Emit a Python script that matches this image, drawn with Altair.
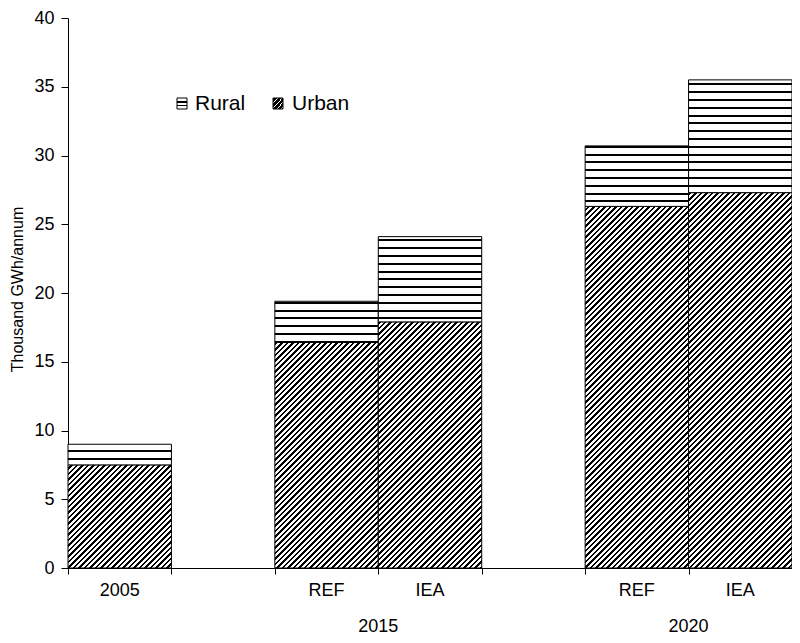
import math
import altair as alt
import pandas as pd

# ---------------- data ----------------
categories = ["2005", "REF 2015", "IEA 2015", "REF 2020", "IEA 2020"]
slot_index = [0, 2, 3, 5, 6]
urban = [7.5, 16.4, 17.9, 26.3, 27.3]
rural = [1.5, 3.0, 6.2, 4.4, 8.2]

slot_labels = ["2005", "", "REF", "IEA", "", "REF", "IEA"]
group_labels = ["2015", "2020"]
group_pos = [3, 6]
legend_labels = ["Rural", "Urban"]
y_ticks = [0, 5, 10, 15, 20, 25, 30, 35, 40]

# ---------------- layout ----------------
W, H = 724, 550
TOP = 10
N_SLOTS = 7
Y_MAX = 40
PX_X = W / N_SLOTS
PX_Y = H / Y_MAX
FONT = "Liberation Sans"


def clamp(v):
    return max(0.0, min(1.0, v))


def hstripe_gradient(top_px, bot_px, period=7.8, lw=2.0):
    """Horizontal black lines, anchored to the plot baseline."""
    h = bot_px - top_px
    stops = [{"offset": 0, "color": "white"}]
    k = int(math.ceil((H - top_px) / period)) + 1
    while k >= 0:
        yc = H - k * period
        a = clamp((yc - lw / 2 - top_px) / h)
        b = clamp((yc + lw / 2 - top_px) / h)
        if b > 0 and a < 1 and b > a:
            stops += [{"offset": a, "color": "white"}, {"offset": a, "color": "black"},
                      {"offset": b, "color": "black"}, {"offset": b, "color": "white"}]
        k -= 1
    stops.append({"offset": 1, "color": "white"})
    return {"gradient": "linear", "x1": 0, "y1": 0, "x2": 0, "y2": 1, "stops": stops}


def diag_gradient(x0, y0, w, h, period=5.5, lw=2.8):
    """45 degree '/' hatching in bbox units, anchored globally."""
    L = w + h
    s = L * h / (w * w + h * h)
    X2, Y2 = s * w / h, s
    base = x0 + y0
    stops = [{"offset": 0, "color": "white"}]
    k = int(math.floor((base - lw) / period))
    while k * period <= base + L + lw:
        c = k * period - base
        a = clamp((c - lw / 2) / L)
        b = clamp((c + lw / 2) / L)
        if b > a:
            stops += [{"offset": a, "color": "white"}, {"offset": a, "color": "black"},
                      {"offset": b, "color": "black"}, {"offset": b, "color": "white"}]
        k += 1
    stops.append({"offset": 1, "color": "white"})
    return {"gradient": "linear", "x1": 0, "y1": 0, "x2": X2, "y2": Y2, "stops": stops}


rows = []
for cat, sl, u, r in zip(categories, slot_index, urban, rural):
    rows.append({"bar": cat, "seg": "Urban", "x0": sl, "x1": sl + 1, "y0": 0, "y1": u})
    rows.append({"bar": cat, "seg": "Rural", "x0": sl, "x1": sl + 1, "y0": u, "y1": u + r})
df = pd.DataFrame(rows)

x_scale = alt.Scale(domain=[0, N_SLOTS], nice=False, zero=False)
y_scale = alt.Scale(domain=[0, Y_MAX], nice=False, zero=True)
x_axis = alt.Axis(values=list(range(N_SLOTS + 1)), labels=False, tickSize=6, grid=False,
                  domainColor="black", tickColor="black", title=None)
y_axis = alt.Axis(values=y_ticks, tickSize=7, grid=False, domainColor="black", tickColor="black",
                  labelFont=FONT, labelFontSize=18, labelColor="black", labelPadding=7,
                  title="Thousand GWh/annum", titleFont=FONT, titleFontSize=16,
                  titleFontWeight="normal", titleColor="black", titleX=-51, titleY=H / 2 - 4,
                  titleAlign="center", titleBaseline="middle", titleAngle=270)

layers = []
for row in rows:
    x0 = row["x0"] * PX_X
    w = (row["x1"] - row["x0"]) * PX_X
    top = H - row["y1"] * PX_Y
    bot = H - row["y0"] * PX_Y
    if row["seg"] == "Rural":
        grad = hstripe_gradient(top, bot)
    else:
        grad = diag_gradient(x0, top, w, bot - top)
    layers.append(
        alt.Chart(df)
        .transform_filter((alt.datum.bar == row["bar"]) & (alt.datum.seg == row["seg"]))
        .mark_rect(fill=grad, stroke="black", strokeWidth=1)
        .encode(
            x=alt.X("x0:Q", scale=x_scale, axis=x_axis),
            x2="x1:Q",
            y=alt.Y("y0:Q", scale=y_scale, axis=y_axis),
            y2="y1:Q",
        )
    )

# x labels under each slot
lab_df = pd.DataFrame({"pos": [i + 0.5 for i in range(N_SLOTS)], "label": slot_labels})
layers.append(
    alt.Chart(lab_df)
    .transform_filter(alt.datum.label != "")
    .mark_text(font=FONT, fontSize=18, color="black", baseline="middle", align="center")
    .encode(x=alt.X("pos:Q", scale=x_scale, axis=x_axis), y=alt.value(H + 23), text="label:N")
)
grp_df = pd.DataFrame({"pos": group_pos, "label": group_labels})
layers.append(
    alt.Chart(grp_df)
    .mark_text(font=FONT, fontSize=18, color="black", baseline="middle", align="center")
    .encode(x=alt.X("pos:Q", scale=x_scale, axis=x_axis), y=alt.value(H + 59), text="label:N")
)

# manual legend
leg_df = pd.DataFrame({"label": legend_labels})
rural_sym = {"gradient": "linear", "x1": 0, "y1": 0, "x2": 0, "y2": 1, "stops": [
    {"offset": 0, "color": "white"}, {"offset": 0.3, "color": "white"},
    {"offset": 0.3, "color": "black"}, {"offset": 0.42, "color": "black"},
    {"offset": 0.42, "color": "white"}, {"offset": 0.62, "color": "white"},
    {"offset": 0.62, "color": "black"}, {"offset": 0.74, "color": "black"},
    {"offset": 0.74, "color": "white"}, {"offset": 1, "color": "white"}]}
urban_stops = [{"offset": 0, "color": "white"}]
for c in [0.12, 0.35, 0.58, 0.81, 1.04]:
    a, b = clamp(c - 0.09), clamp(c + 0.09)
    urban_stops += [{"offset": a, "color": "white"}, {"offset": a, "color": "black"},
                    {"offset": b, "color": "black"}, {"offset": b, "color": "white"}]
urban_stops.append({"offset": 1, "color": "white"})
urban_sym = {"gradient": "linear", "x1": 0, "y1": 0, "x2": 1, "y2": 1, "stops": urban_stops}

LEG_Y = 103 - 8 - TOP
for name, sym, sx, tx in [("Rural", rural_sym, 109, 127), ("Urban", urban_sym, 205, 224)]:
    layers.append(
        alt.Chart(leg_df).transform_filter(alt.datum.label == name)
        .mark_rect(fill=sym, stroke="black", strokeWidth=1)
        .encode(x=alt.value(sx), x2=alt.value(sx + 10), y=alt.value(LEG_Y - 5), y2=alt.value(LEG_Y + 6))
    )
    layers.append(
        alt.Chart(leg_df).transform_filter(alt.datum.label == name)
        .mark_text(font=FONT, fontSize=21, color="black", align="left", baseline="middle")
        .encode(x=alt.value(tx), y=alt.value(LEG_Y + 1), text="label:N")
    )

chart = (
    alt.layer(*layers)
    .properties(width=W, height=H, autosize="none",
                padding={"left": 60, "top": TOP, "right": 0, "bottom": 627 - TOP - H})
    .configure_view(stroke=None)
)

chart.save("out.html", embed_options={"renderer": "svg", "actions": False})
